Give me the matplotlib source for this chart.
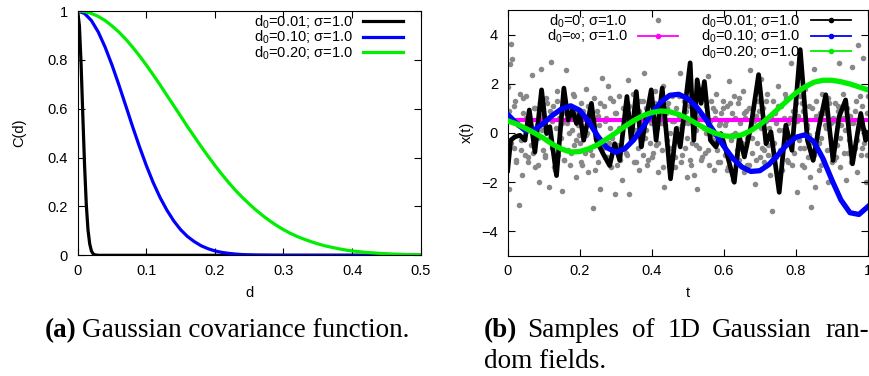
import numpy as np
import matplotlib
matplotlib.use('Agg')
import matplotlib.pyplot as plt
from matplotlib.lines import Line2D

plt.rcParams['font.family'] = ['Liberation Sans', 'DejaVu Sans']
plt.rcParams['mathtext.fontset'] = 'custom'
plt.rcParams['mathtext.rm'] = 'Liberation Sans'
plt.rcParams['mathtext.it'] = 'Liberation Sans:italic'

# ---- (a) covariance curves ----
d_001 = [0, 0.0025, 0.005, 0.0075, 0.01, 0.0125, 0.015, 0.0175, 0.02, 0.0225, 0.025, 0.03, 0.5]
c_001 = [1, 0.94, 0.78, 0.57, 0.37, 0.21, 0.105, 0.047, 0.018, 0.006, 0.002, 0, 0]

d_010 = [0, .01, .02, .03, .04, .05, .06, .07, .08, .09, .10, .11, .12, .13, .14,
         .15, .16, .17, .18, .19, .20, .21, .22, .23, .24, .25, .26, .28, .30, .50]
c_010 = [1, .990, .961, .914, .852, .779, .698, .613, .527, .445, .368, .298, .237,
         .185, .141, .105, .077, .056, .039, .027, .018, .012, .008, .005, .003,
         .002, .001, .0004, 0, 0]

d_020 = [0, .01, .02, .03, .04, .05, .06, .07, .08, .09, .10, .11, .12, .13, .14,
         .15, .16, .17, .18, .19, .20, .21, .22, .23, .24, .25, .26, .27, .28, .29,
         .30, .31, .32, .33, .34, .35, .36, .37, .38, .39, .40, .42, .44, .46, .48, .50]
c_020 = [1, .998, .990, .978, .961, .939, .914, .885, .852, .817, .779, .739, .698,
         .655, .613, .570, .527, .486, .445, .406, .368, .332, .298, .266, .237, .210,
         .185, .162, .141, .122, .105, .090, .077, .066, .056, .047, .039, .033, .027,
         .022, .018, .012, .008, .005, .003, .002]

# ---- (b) sample fields ----
# white noise (d0=0), two interleaved sample grids
noise = [
    1.85, -2.3, 2.8, 3.6, 3.0, -0.6, 1.3, -1.1, 0.4, -2.95, 1.6, -0.3, -1.7, 0.8, -0.9,
    1.5, 0.1, -1.2, 0.6, -0.5, 2.35, -0.8, 1.0, -1.4, 0.3, -0.2, -2.0, 1.2, 2.6, -0.7,
    0.5, -1.0, 1.4, -0.3, -2.2, 0.9, 2.9, -0.6, 1.1, -1.5, 0.2, 1.7, -0.9, 0.6, -0.2,
    -2.35, 1.3, -1.1, 2.55, 0.4, -0.7, 1.0, -1.3, 0.1, 1.6, -0.5, 0.8, -1.8, 0.3, -0.1,
    -0.4, 1.2, -1.3, 0.7, -0.8, 1.8, 0.0, -1.6, 1.0, 0.5, -0.9, -3.05, 1.4, -0.2, 0.9,
    -1.2, 0.3, -2.3, 2.25, -0.6, 1.1, -1.0, 0.6, 1.9, -0.4, 0.2, -1.4, 1.3, -0.7, -2.5,
    0.8, -0.5, 1.5, -1.1, 0.2, -1.9, 1.0, 0.4, -0.8, 1.2, 2.15, -2.5, 0.6, -0.3, 1.6,
    -1.2, 0.1, 0.9, -0.6, -1.5, 1.3, 0.5, -0.9, 2.45, -0.2, 1.0, -1.3, 0.7, -0.4, 1.4,
    -1.0, 0.6, 1.7, -0.5, 0.2, -1.6, 1.1, 0.4, -0.7, 1.9, -2.2, 0.8, -0.3, 1.2, -1.1,
    0.0, 1.5, -0.9, 0.5, -1.4, 1.0, -0.2, 0.7, 2.45, -1.2, 0.3, 1.3, -0.6, 0.9, -1.8,
    0.4, -1.1, 1.2, -0.4, 0.9, -1.7, 0.1, -2.3, 1.4, -0.6, 0.7, -1.0, 1.8, 0.2, -0.8,
    1.1, 2.3, -1.3, 0.5, -0.1, 1.0, -1.5, 0.6, 1.6, -0.7, 0.3, -1.2, 0.8, -0.3, 1.3,
    -0.9, 0.5, 1.1, -1.4, 2.1, -0.3, 0.8, -1.9, 1.5, 0.0, -0.7, 1.2, -1.1, 0.4, -0.5,
    1.7, -1.6, 0.6, 0.9, -0.2, -1.3, 2.55, 0.3, -0.8, 1.0, -2.1, 0.7, -0.4, 1.3, -1.0,
    2.2, -0.6, 1.0, -1.2, 0.5, 1.6, -0.9, 0.2, -1.7, -3.2, 1.3, -0.4, 0.8, -1.0, 1.9,
    0.1, -0.7, 1.1, -1.5, 0.6, -0.2, 1.4, -1.1, 0.4, -0.5, 2.85, -1.3, 0.9, -0.8, 1.2,
    -2.4, 0.7, -0.3, 1.5, -1.3, 0.9, -0.6, 1.8, 0.2, -1.0, 1.1, -1.8, -3.0, -0.4, 2.6,
    -2.2, 1.3, 0.0, -1.5, 0.8, -0.2, 1.6, -1.1, 0.3, 1.0, -0.7, -2.0, 1.2, 0.4, -1.2,
    0.6, -1.1, 1.2, -0.5, 0.9, 2.85, -1.4, 0.3, 1.6, -0.8, 0.1, -1.9, 1.0, -0.3, 0.7,
    -1.2, 2.7, 0.4, -0.6, 1.3, -1.6, 3.57, 0.2, -0.9, 1.1, 3.05, -0.4, -2.0, 0.8, 1.5,
]
noise_b = [
    0.9, -0.4, 1.1, -1.2, 0.3, -0.7, 1.4, 0.6, -1.0, 0.2,
    -0.5, 1.0, -1.3, 0.7, 0.1, -0.9, 1.2, -0.2, 0.5, -1.4,
    1.3, -0.6, 0.4, -1.1, 0.8, 0.0, -0.8, 1.5, -0.3, 0.6,
    -1.2, 0.9, -0.1, 1.1, -0.7, 0.3, -1.5, 0.7, 1.2, -0.4,
    0.5, -1.0, 1.4, -0.2, 0.8, -1.3, 0.2, -0.6, 1.0, -0.9,
    1.1, -0.3, 0.6, -1.2, 0.9, -0.5, 1.3, 0.1, -1.1, 0.4,
    -0.8, 1.2, -0.4, 0.7, -1.4, 0.3, 1.0, -0.6, 0.5, -1.0,
    0.2, 1.5, -0.9, 0.4, -0.2, 1.1, -1.3, 0.8, -0.5, 0.6,
    -1.1, 0.7, 0.0, -0.7, 1.3, -0.3, 0.9, -1.2, 0.4, 1.0,
    0.3, -1.5, 1.2, -0.1, 0.6, -0.9, 1.4, -0.4, 0.8, -1.3,
    1.0, -0.2, 0.5, -1.1, 0.9, 0.2, -0.7, 1.3, -0.5, 0.7,
    -1.0, 0.4, 1.1, -0.8, 0.1, 1.6, -1.2, 0.6, -0.3, 0.9,
    0.5, -0.6, 1.2, -1.4, 0.3, -0.1, 1.0, -0.9, 0.7, -0.4,
    -1.3, 0.8, 0.2, 1.4, -0.7, 0.5, -1.0, 1.1, -0.2, 0.6,
    1.2, -0.8, 0.4, -1.1, 0.9, -0.3, 1.5, -0.6, 0.1, -0.9,
]
t_noise = np.linspace(0, 1, len(noise))
t_noise_b = np.linspace(0.003, 0.997, len(noise_b))

t_inf = [0, 1]
x_inf = [0.52, 0.52]

t_001 = [0, .0083, .0203, .0341, .048, .060, .0756, .0941, .108, .117, .1356, .156,
         .168, .180, .191, .200, .211, .2325, .246, .265, .283, .297, .311, .331,
         .343, .357, .371, .380, .3985, .412, .429, .452, .468, .479, .491, .5065,
         .5166, .526, .537, .546, .5627, .578, .592, .606, .629, .643, .657, .675,
         .6965, .717, .7306, .7537, .772, .789, .812, .832, .848, .864, .883, .903,
         .920, .938, .957, .980, .9935, 1.0]
x_001 = [-1.53, -0.30, -0.16, -0.10, -0.30, 0.93, -0.78, 1.75, -0.03, 0.25, -1.74, 1.82,
         0.52, 0.93, 0.38, 0.79, -0.30, 1.20, -0.30, -0.85, -1.33, -0.44, -1.12, 1.48,
         -0.30, 1.68, -0.57, 0.25, 1.75, -0.30, 1.82, -1.87, 0.18, -0.57, 0.93, 2.85,
         -0.30, 2.16, 1.20, 2.09, -0.30, -0.57, -0.03, -0.71, -2.01, -0.16, -0.98, 0.25,
         2.37, -0.44, 0.04, -2.42, 0.31, -0.71, 3.39, -0.30, -1.12, 0.25, 1.55, -1.12,
         0.66, 1.34, -1.26, 0.79, -0.30, 0.0]

t_grid = np.linspace(0, 1, 41)
x_010 = [0.75, 0.38, 0.08, 0.13, 0.40, 0.72, 0.98, 1.10, 0.92, 0.45, -0.13, -0.60,
         -0.78, -0.65, -0.28, 0.23, 0.79, 1.25, 1.53, 1.57, 1.39, 1.04, 0.55, 0.0,
         -0.55, -1.04, -1.39, -1.57, -1.54, -1.29, -0.90, -0.48, -0.18, -0.08, -0.36,
         -1.04, -1.92, -2.73, -3.25, -3.32, -3.0]
x_020 = [0.49, 0.36, 0.18, -0.01, -0.22, -0.47, -0.66, -0.78, -0.76, -0.65, -0.48,
         -0.25, 0.0, 0.26, 0.50, 0.70, 0.83, 0.89, 0.86, 0.75, 0.58, 0.37, 0.16, -0.01,
         -0.12, -0.15, -0.08, 0.09, 0.33, 0.63, 0.97, 1.30, 1.62, 1.87, 2.06, 2.14,
         2.14, 2.08, 1.99, 1.87, 1.75]

fig = plt.figure(figsize=(8.69, 3.76), dpi=100)
ax1 = fig.add_axes([0.0894, 0.321, 0.3947, 0.6497])
ax2 = fig.add_axes([0.5842, 0.3199, 0.4146, 0.6535])

fs = 10.5
lab1 = 'd$_0$=0.01; σ=1.0'
lab2 = 'd$_0$=0.10; σ=1.0'
lab3 = 'd$_0$=0.20; σ=1.0'
leg_kw = dict(loc='upper right', markerfirst=False, frameon=False, fontsize=fs,
              borderpad=0, borderaxespad=0, handlelength=2.75, handletextpad=0.7,
              labelspacing=-0.13)

# left panel
ax1.plot(d_001, c_001, color='black', lw=2.3, label=lab1)
ax1.plot(d_010, c_010, color='#0000ff', lw=2.3, label=lab2)
ax1.plot(d_020, c_020, color='#00ee00', lw=2.3, label=lab3)
ax1.set_xlim(0, 0.5)
ax1.set_ylim(0, 1)
ax1.set_xticks([0, 0.1, 0.2, 0.3, 0.4, 0.5])
ax1.set_xticklabels(['0', '0.1', '0.2', '0.3', '0.4', '0.5'])
ax1.set_yticks([0, 0.2, 0.4, 0.6, 0.8, 1])
ax1.set_yticklabels(['0', '0.2', '0.4', '0.6', '0.8', '1'])
ax1.set_xlabel('d', fontsize=fs)
ax1.set_ylabel('C(d)', fontsize=fs)
ax1.xaxis.set_label_coords(0.5, -0.125)
ax1.yaxis.set_label_coords(-0.15, 0.5)
ax1.legend(bbox_to_anchor=(0.948, 0.99), **leg_kw)

# right panel
ax2.scatter(t_noise, noise, s=16, color='#888888', lw=0, zorder=1)
ax2.scatter(t_noise_b, noise_b, s=16, color='#888888', lw=0, zorder=1)
ax2.plot(t_inf, x_inf, color='#ff00ff', lw=3, zorder=2)
ax2.plot(t_001, x_001, color='black', lw=3.4, zorder=3)
ax2.plot(t_grid, x_010, color='#0000ff', lw=3.8, zorder=4)
ax2.plot(t_grid, x_020, color='#00ee00', lw=3.8, zorder=5)
ax2.set_xlim(0, 1)
ax2.set_ylim(-5, 5)
ax2.set_xticks([0, 0.2, 0.4, 0.6, 0.8, 1])
ax2.set_xticklabels(['0', '0.2', '0.4', '0.6', '0.8', '1'])
ax2.set_yticks([-4, -2, 0, 2, 4])
ax2.set_xlabel('t', fontsize=fs)
ax2.set_ylabel('x(t)', fontsize=fs)
ax2.xaxis.set_label_coords(0.5, -0.125)
ax2.yaxis.set_label_coords(-0.095, 0.5)

h0 = Line2D([], [], ls='none', marker='o', ms=3, color='#888888')
hinf = Line2D([], [], color='#ff00ff', lw=1.3, marker='o', ms=3)
h1 = Line2D([], [], color='black', lw=1.3, marker='o', ms=3)
h2 = Line2D([], [], color='#0000ff', lw=1.3, marker='o', ms=3)
h3 = Line2D([], [], color='#00ee00', lw=1.3, marker='o', ms=3)
leg_a = ax2.legend([h0, hinf], ['d$_0$=0; σ=1.0', 'd$_0$=∞; σ=1.0'],
                   bbox_to_anchor=(0.4727, 0.99), numpoints=1, **leg_kw)
ax2.add_artist(leg_a)
ax2.legend([h1, h2, h3], [lab1, lab2, lab3],
           bbox_to_anchor=(0.952, 0.99), numpoints=1, **leg_kw)

for ax in (ax1, ax2):
    ax.tick_params(direction='in', top=True, right=True, length=5, width=0.8,
                   labelsize=fs)
    ax.tick_params(axis='x', pad=6)
    ax.tick_params(axis='y', pad=7)
    for sp in ax.spines.values():
        sp.set_linewidth(0.8)

# captions
cap = dict(family=['Liberation Serif', 'DejaVu Serif'], fontsize=19.5, va='baseline')
W, H = 869.0, 376.0
y1 = 1 - 336.7 / H
y2 = 1 - 368.3 / H
fig.text(45 / W, y1, '(a)', fontweight='bold', **cap)
fig.text(82 / W, y1, 'Gaussian covariance function.', **cap)
fig.text(484 / W, y1, '(b)', fontweight='bold', **cap)
for word, px in [('Samples', 527), ('of', 632), ('1D', 668), ('Gaussian', 712), ('ran-', 825)]:
    fig.text(px / W, y1, word, **cap)
fig.text(484 / W, y2, 'dom fields.', **cap)

fig.savefig('out.png', dpi=100)
